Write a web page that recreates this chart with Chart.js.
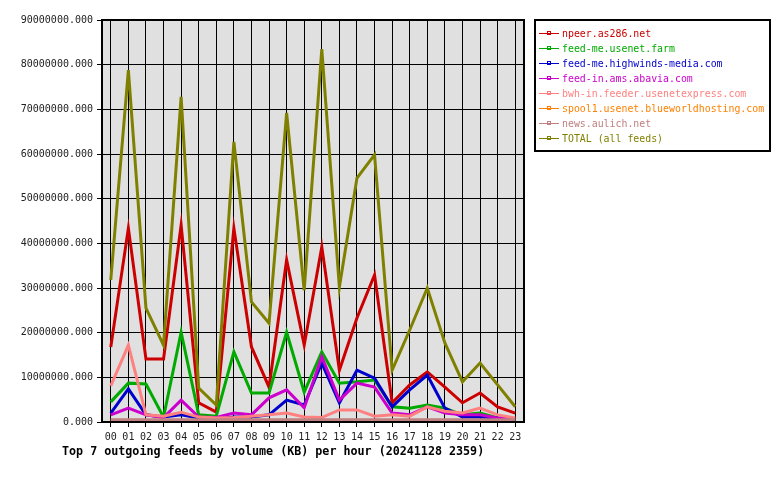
<!DOCTYPE html>
<html>
<head>
<meta charset="utf-8">
<style>
  body { margin: 0; background: #fff; }
  #wrap { width: 780px; height: 480px; }
</style>
</head>
<body>
<div id="wrap">
  <canvas id="feeds" width="780" height="480"></canvas>
</div>

<script src="https://cdn.jsdelivr.net/npm/chart.js"></script>

<script>
  const hours = ['00','01','02','03','04','05','06','07','08','09','10','11',
                 '12','13','14','15','16','17','18','19','20','21','22','23'];
  const yTicks = [0, 10000000, 20000000, 30000000, 40000000, 50000000, 60000000, 70000000, 80000000, 90000000];

  const feedNames = ['npeer.as286.net', 'feed-me.usenet.farm', 'feed-me.highwinds-media.com',
    'feed-in.ams.abavia.com', 'bwh-in.feeder.usenetexpress.com',
    'spool1.usenet.blueworldhosting.com', 'news.aulich.net', 'TOTAL (all feeds)'];
  const feedColors = ['#cc0000', '#00aa00', '#0000cc', '#cc00cc', '#ff8080', '#ff8000', '#c08080', '#808000'];

  const npeer     = [16.8, 43.4, 14.1, 14.1, 44.1, 4.3, 2.2, 43.4, 16.8, 7.8, 36.3, 17.2,
                     39.2, 11.6, 23.3, 32.9, 4.3, 8.3, 11.2, 7.8, 4.3, 6.5, 3.4, 2.0];
  const usenetFarm = [4.5, 8.7, 8.5, 1.1, 20.1, 1.6, 1.3, 15.7, 6.5, 6.5, 20.1, 6.7,
                     15.7, 8.7, 9.0, 9.4, 3.4, 3.1, 3.8, 3.1, 1.6, 2.0, 0.9, 0.5];
  const highwinds = [2.0, 7.4, 1.6, 1.1, 1.6, 0.9, 0.7, 1.1, 1.1, 1.6, 4.9, 3.8,
                     13.2, 4.3, 11.6, 9.8, 3.4, 7.2, 10.5, 3.1, 1.1, 1.1, 0.9, 0.4];
  const abavia    = [1.6, 3.1, 1.6, 1.0, 4.9, 1.1, 1.0, 2.0, 1.6, 5.4, 7.2, 3.2,
                     14.6, 4.9, 8.7, 7.8, 2.0, 1.6, 3.4, 2.0, 1.6, 1.6, 0.9, 0.7];
  const usenetExpress = [8.1, 17.2, 1.6, 1.3, 2.2, 1.1, 0.9, 1.0, 1.3, 1.6, 2.0, 1.1,
                     1.0, 2.7, 2.7, 1.3, 1.6, 1.3, 3.4, 2.4, 2.0, 3.1, 1.6, 0.9];
  const blueworld = [0.3, 0.3, 0.3, 0.3, 0.3, 0.3, 0.3, 0.3, 0.3, 0.3, 0.3, 0.3,
                     0.3, 0.3, 0.3, 0.3, 0.3, 0.3, 0.3, 0.3, 0.3, 0.3, 0.3, 0.3];
  const aulich    = [0.5, 0.5, 0.5, 0.5, 0.5, 0.5, 0.5, 0.5, 0.5, 0.5, 0.5, 0.5,
                     0.5, 0.5, 0.5, 0.5, 0.5, 0.5, 0.5, 0.5, 0.5, 0.5, 0.5, 0.5];
  const total     = [31.8, 78.8, 25.5, 17.2, 72.8, 7.6, 3.8, 62.7, 26.9, 22.1, 69.2, 29.5,
                     83.5, 30.2, 54.6, 59.8, 11.6, 20.6, 30.0, 17.7, 9.0, 13.2, 8.3, 3.4];

  const chartTitle = 'Top 7 outgoing feeds by volume (KB) per hour (20241128 2359)';

  // values above are in millions of KB
  const series = [npeer, usenetFarm, highwinds, abavia, usenetExpress, blueworld, aulich, total];
  const mono = '"DejaVu Sans Mono", monospace';

  // plot background, frame, legend box and title
  const decor = {
    id: 'decor',
    beforeDraw(chart) {
      const c = chart.ctx, a = chart.chartArea;
      c.save();
      c.fillStyle = '#e0e0e0';
      c.fillRect(a.left, a.top, a.right - a.left, a.bottom - a.top);
      c.restore();
    },
    afterDraw(chart) {
      const c = chart.ctx, a = chart.chartArea;
      c.save();
      c.strokeStyle = '#000';
      c.lineWidth = 2;
      c.strokeRect(a.left, a.top, a.right - a.left, a.bottom - a.top);

      // legend
      c.strokeRect(535, 20, 235, 131);
      c.font = '9.9px ' + mono;
      c.textBaseline = 'middle';
      c.lineWidth = 1;
      feedNames.forEach((name, i) => {
        const y = 33.5 + i * 15;
        c.strokeStyle = feedColors[i];
        c.fillStyle = feedColors[i];
        c.beginPath();
        c.moveTo(539, y);
        c.lineTo(559, y);
        c.stroke();
        c.strokeRect(547.5, y - 2, 3, 3);
        c.fillText(name, 562, y + 1);
      });

      c.fillStyle = '#000';
      c.font = 'bold 11.7px ' + mono;
      c.textBaseline = 'middle';
      c.fillText(chartTitle, 62, 452);
      c.restore();
    }
  };

  const ctx = document.getElementById('feeds');

  new Chart(ctx, {
    type: 'line',
    data: {
      labels: hours,
      datasets: series.map((vals, i) => ({
        label: feedNames[i],
        data: vals.map(v => v * 1000000),
        borderColor: feedColors[i],
        backgroundColor: feedColors[i],
        borderWidth: 3,
        pointRadius: 0,
        tension: 0,
        order: series.length - i
      }))
    },
    options: {
      responsive: false,
      animation: false,
      layout: { padding: { top: 20, left: 0, right: 256, bottom: 34 } },
      plugins: {
        legend: { display: false },
        tooltip: { enabled: false }
      },
      scales: {
        x: {
          offset: true,
          grid: { color: '#000', lineWidth: 1, offset: false, tickLength: 5 },
          border: { color: '#000', width: 2 },
          ticks: { color: '#222', font: { family: mono, size: 10 }, padding: 4, maxRotation: 0, autoSkip: false },
          afterFit(s) { s.height = 24; }
        },
        y: {
          min: 0,
          max: 90000000,
          afterBuildTicks(s) { s.ticks = yTicks.map(v => ({ value: v })); },
          grid: { color: '#000', lineWidth: 1, tickLength: 5 },
          border: { color: '#000', width: 2 },
          ticks: {
            color: '#222',
            font: { family: mono, size: 10 },
            padding: 4,
            callback: v => v.toFixed(3)
          },
          afterFit(s) { s.width = 102; }
        }
      }
    },
    plugins: [decor]
  });
</script>
</body>
</html>
